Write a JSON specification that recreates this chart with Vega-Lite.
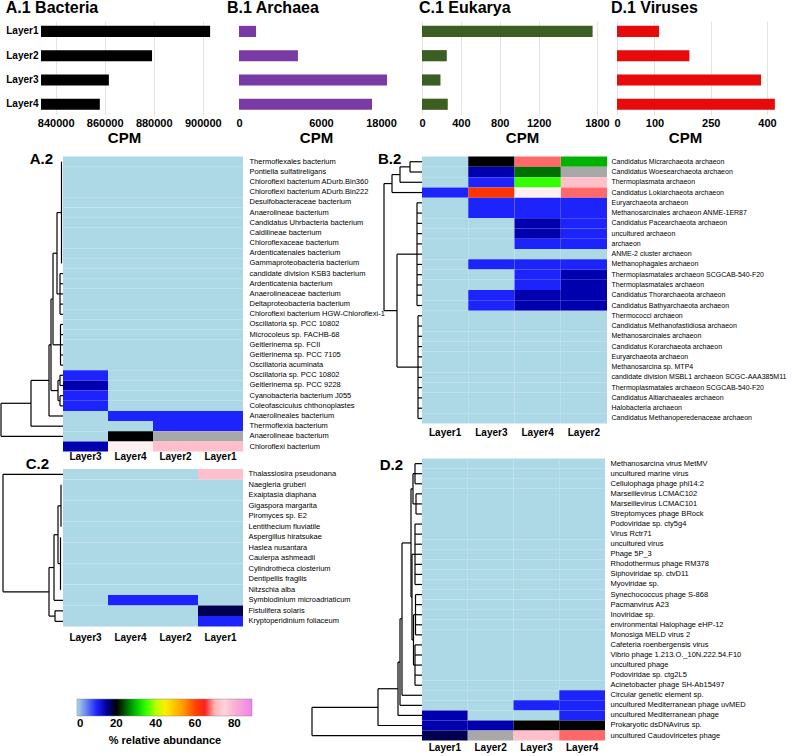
{
"$schema": "https://vega.github.io/schema/vega-lite/v6.json",
"padding": 0,
"background": "white",
"spacing": 5.6,
"config": {
 "view": {"stroke": null},
 "font": "Liberation Sans",
 "axis": {"labelColor": "black", "titleColor": "black", "domain": false, "ticks": false},
 "title": {"color": "black", "font": "Liberation Sans", "fontWeight": "bold", "fontSize": 16}
},
"resolve": {"scale": {"color": "shared"}, "legend": {"color": "shared"}},
"datasets": {
 "A": [
  {"r":"Thermoflexales bacterium","Layer1":0,"Layer2":0,"Layer3":0,"Layer4":0},
  {"r":"Pontiella sulfatireligans","Layer1":0,"Layer2":0,"Layer3":0,"Layer4":0},
  {"r":"Chloroflexi bacterium ADurb.Bin360","Layer1":0,"Layer2":0,"Layer3":0,"Layer4":0},
  {"r":"Chloroflexi bacterium ADurb.Bin222","Layer1":0,"Layer2":0,"Layer3":0,"Layer4":0},
  {"r":"Desulfobacteraceae bacterium","Layer1":0,"Layer2":0,"Layer3":0,"Layer4":0},
  {"r":"Anaerolineae bacterium","Layer1":0,"Layer2":0,"Layer3":0,"Layer4":0},
  {"r":"Candidatus Uhrbacteria bacterium","Layer1":0,"Layer2":0,"Layer3":0,"Layer4":0},
  {"r":"Caldilineae bacterium","Layer1":0,"Layer2":0,"Layer3":0,"Layer4":0},
  {"r":"Chloroflexaceae bacterium","Layer1":0,"Layer2":0,"Layer3":0,"Layer4":0},
  {"r":"Ardenticatenales bacterium","Layer1":0,"Layer2":0,"Layer3":0,"Layer4":0},
  {"r":"Gammaproteobacteria bacterium","Layer1":0,"Layer2":0,"Layer3":0,"Layer4":0},
  {"r":"candidate division KSB3 bacterium","Layer1":0,"Layer2":0,"Layer3":0,"Layer4":0},
  {"r":"Ardenticatenia bacterium","Layer1":0,"Layer2":0,"Layer3":0,"Layer4":0},
  {"r":"Anaerolineaceae bacterium","Layer1":0,"Layer2":0,"Layer3":0,"Layer4":0},
  {"r":"Deltaproteobacteria bacterium","Layer1":0,"Layer2":0,"Layer3":0,"Layer4":0},
  {"r":"Chloroflexi bacterium HGW-Chloroflexi-1","Layer1":0,"Layer2":0,"Layer3":0,"Layer4":0},
  {"r":"Oscillatoria sp. PCC 10802","Layer1":0,"Layer2":0,"Layer3":0,"Layer4":0},
  {"r":"Microcoleus sp. FACHB-68","Layer1":0,"Layer2":0,"Layer3":0,"Layer4":0},
  {"r":"Geitlerinema sp. FCII","Layer1":0,"Layer2":0,"Layer3":0,"Layer4":0},
  {"r":"Geitlerinema sp. PCC 7105","Layer1":0,"Layer2":0,"Layer3":0,"Layer4":0},
  {"r":"Oscillatoria acuminata","Layer1":0,"Layer2":0,"Layer3":0,"Layer4":0},
  {"r":"Oscillatoria sp. PCC 10802\u200b","Layer1":0,"Layer2":0,"Layer3":10,"Layer4":0},
  {"r":"Geitlerinema sp. PCC 9228","Layer1":0,"Layer2":0,"Layer3":14.5,"Layer4":0},
  {"r":"Cyanobacteria bacterium J055","Layer1":0,"Layer2":0,"Layer3":10,"Layer4":0},
  {"r":"Coleofasciculus chthonoplastes","Layer1":0,"Layer2":0,"Layer3":10,"Layer4":0},
  {"r":"Anaerolineales bacterium","Layer1":10,"Layer2":10,"Layer3":0,"Layer4":10},
  {"r":"Thermoflexia bacterium","Layer1":10,"Layer2":10,"Layer3":0,"Layer4":0},
  {"r":"Anaerolineae bacterium\u200b","Layer1":null,"Layer2":null,"Layer3":0,"Layer4":20},
  {"r":"Chloroflexi bacterium","Layer1":77,"Layer2":77,"Layer3":14.5,"Layer4":72}
 ],
 "B": [
  {"r":"Candidatus Micrarchaeota archaeon","Layer1":0,"Layer2":29,"Layer3":20,"Layer4":67.5},
  {"r":"Candidatus Woesearchaeota archaeon","Layer1":0,"Layer2":null,"Layer3":14.5,"Layer4":25.5},
  {"r":"Thermoplasmata archaeon","Layer1":0,"Layer2":77,"Layer3":10,"Layer4":35},
  {"r":"Candidatus Lokiarchaeota archaeon","Layer1":10,"Layer2":67.5,"Layer3":61,"Layer4":72},
  {"r":"Euryarchaeota archaeon","Layer1":0,"Layer2":10,"Layer3":10,"Layer4":10},
  {"r":"Methanosarcinales archaeon ANME-1ER87","Layer1":0,"Layer2":10,"Layer3":10,"Layer4":10},
  {"r":"Candidatus Pacearchaeota archaeon","Layer1":0,"Layer2":10,"Layer3":0,"Layer4":14.5},
  {"r":"uncultured archaeon","Layer1":0,"Layer2":10,"Layer3":0,"Layer4":14.5},
  {"r":"archaeon","Layer1":0,"Layer2":10,"Layer3":0,"Layer4":10},
  {"r":"ANME-2 cluster archaeon","Layer1":0,"Layer2":0,"Layer3":0,"Layer4":0},
  {"r":"Methanophagales archaeon","Layer1":0,"Layer2":10,"Layer3":10,"Layer4":10},
  {"r":"Thermoplasmatales archaeon SCGCAB-540-F20","Layer1":0,"Layer2":14.5,"Layer3":0,"Layer4":10},
  {"r":"Thermoplasmatales archaeon","Layer1":0,"Layer2":14.5,"Layer3":0,"Layer4":10},
  {"r":"Candidatus Thorarchaeota archaeon","Layer1":0,"Layer2":14.5,"Layer3":10,"Layer4":14.5},
  {"r":"Candidatus Bathyarchaeota archaeon","Layer1":0,"Layer2":14.5,"Layer3":10,"Layer4":14.5},
  {"r":"Thermococci archaeon","Layer1":0,"Layer2":0,"Layer3":0,"Layer4":0},
  {"r":"Candidatus Methanofastidiosa archaeon","Layer1":0,"Layer2":0,"Layer3":0,"Layer4":0},
  {"r":"Methanosarcinales archaeon","Layer1":0,"Layer2":0,"Layer3":0,"Layer4":0},
  {"r":"Candidatus Korarchaeota archaeon","Layer1":0,"Layer2":0,"Layer3":0,"Layer4":0},
  {"r":"Euryarchaeota archaeon\u200b","Layer1":0,"Layer2":0,"Layer3":0,"Layer4":0},
  {"r":"Methanosarcina sp. MTP4","Layer1":0,"Layer2":0,"Layer3":0,"Layer4":0},
  {"r":"candidate division MSBL1 archaeon SCGC-AAA385M11","Layer1":0,"Layer2":0,"Layer3":0,"Layer4":0},
  {"r":"Thermoplasmatales archaeon SCGCAB-540-F20\u200b","Layer1":0,"Layer2":0,"Layer3":0,"Layer4":0},
  {"r":"Candidatus Altiarchaeales archaeon","Layer1":0,"Layer2":0,"Layer3":0,"Layer4":0},
  {"r":"Halobacteria archaeon","Layer1":0,"Layer2":0,"Layer3":0,"Layer4":0},
  {"r":"Candidatus Methanoperedenaceae archaeon","Layer1":0,"Layer2":0,"Layer3":0,"Layer4":0}
 ],
 "C": [
  {"r":"Thalassiosira pseudonana","Layer1":77,"Layer2":0,"Layer3":0,"Layer4":0},
  {"r":"Naegleria gruberi","Layer1":0,"Layer2":0,"Layer3":0,"Layer4":0},
  {"r":"Exaiptasia diaphana","Layer1":0,"Layer2":0,"Layer3":0,"Layer4":0},
  {"r":"Gigaspora margarita","Layer1":0,"Layer2":0,"Layer3":0,"Layer4":0},
  {"r":"Piromyces sp. E2","Layer1":0,"Layer2":0,"Layer3":0,"Layer4":0},
  {"r":"Lentithecium fluviatile","Layer1":0,"Layer2":0,"Layer3":0,"Layer4":0},
  {"r":"Aspergillus hiratsukae","Layer1":0,"Layer2":0,"Layer3":0,"Layer4":0},
  {"r":"Haslea nusantara","Layer1":0,"Layer2":0,"Layer3":0,"Layer4":0},
  {"r":"Caulerpa ashmeadii","Layer1":0,"Layer2":0,"Layer3":0,"Layer4":0},
  {"r":"Cylindrotheca closterium","Layer1":0,"Layer2":0,"Layer3":0,"Layer4":0},
  {"r":"Dentipellis fragilis","Layer1":0,"Layer2":0,"Layer3":0,"Layer4":0},
  {"r":"Nitzschia alba","Layer1":0,"Layer2":0,"Layer3":0,"Layer4":0},
  {"r":"Symbiodinium microadriaticum","Layer1":0,"Layer2":10,"Layer3":0,"Layer4":10},
  {"r":"Fistulifera solaris","Layer1":17.5,"Layer2":0,"Layer3":0,"Layer4":0},
  {"r":"Kryptoperidinium foliaceum","Layer1":10,"Layer2":0,"Layer3":0,"Layer4":0}
 ],
 "D": [
  {"r":"Methanosarcina virus MetMV","Layer1":0,"Layer2":0,"Layer3":0,"Layer4":0},
  {"r":"uncultured marine virus","Layer1":0,"Layer2":0,"Layer3":0,"Layer4":0},
  {"r":"Cellulophaga phage phi14:2","Layer1":0,"Layer2":0,"Layer3":0,"Layer4":0},
  {"r":"Marseillevirus LCMAC102","Layer1":0,"Layer2":0,"Layer3":0,"Layer4":0},
  {"r":"Marseillevirus LCMAC101","Layer1":0,"Layer2":0,"Layer3":0,"Layer4":0},
  {"r":"Streptomyces phage BRock","Layer1":0,"Layer2":0,"Layer3":0,"Layer4":0},
  {"r":"Podoviridae sp. cty5g4","Layer1":0,"Layer2":0,"Layer3":0,"Layer4":0},
  {"r":"Virus Rctr71","Layer1":0,"Layer2":0,"Layer3":0,"Layer4":0},
  {"r":"uncultured virus","Layer1":0,"Layer2":0,"Layer3":0,"Layer4":0},
  {"r":"Phage 5P_3","Layer1":0,"Layer2":0,"Layer3":0,"Layer4":0},
  {"r":"Rhodothermus phage RM378","Layer1":0,"Layer2":0,"Layer3":0,"Layer4":0},
  {"r":"Siphoviridae sp. ctvD11","Layer1":0,"Layer2":0,"Layer3":0,"Layer4":0},
  {"r":"Myoviridae sp.","Layer1":0,"Layer2":0,"Layer3":0,"Layer4":0},
  {"r":"Synechococcus phage S-868","Layer1":0,"Layer2":0,"Layer3":0,"Layer4":0},
  {"r":"Pacmanvirus A23","Layer1":0,"Layer2":0,"Layer3":0,"Layer4":0},
  {"r":"Inoviridae sp.","Layer1":0,"Layer2":0,"Layer3":0,"Layer4":0},
  {"r":"environmental Halophage eHP-12","Layer1":0,"Layer2":0,"Layer3":0,"Layer4":0},
  {"r":"Monosiga MELD virus 2","Layer1":0,"Layer2":0,"Layer3":0,"Layer4":0},
  {"r":"Cafeteria roenbergensis virus","Layer1":0,"Layer2":0,"Layer3":0,"Layer4":0},
  {"r":"Vibrio phage 1.213.O._10N.222.54.F10","Layer1":0,"Layer2":0,"Layer3":0,"Layer4":0},
  {"r":"uncultured phage","Layer1":0,"Layer2":0,"Layer3":0,"Layer4":0},
  {"r":"Podoviridae sp. ctg2L5","Layer1":0,"Layer2":0,"Layer3":0,"Layer4":0},
  {"r":"Acinetobacter phage SH-Ab15497","Layer1":0,"Layer2":0,"Layer3":0,"Layer4":0},
  {"r":"Circular genetic element sp.","Layer1":0,"Layer2":0,"Layer3":0,"Layer4":10},
  {"r":"uncultured Mediterranean phage uvMED","Layer1":0,"Layer2":0,"Layer3":10,"Layer4":10},
  {"r":"uncultured Mediterranean phage","Layer1":14.5,"Layer2":0,"Layer3":0,"Layer4":10},
  {"r":"Prokaryotic dsDNAvirus sp.","Layer1":14.5,"Layer2":14.5,"Layer3":20,"Layer4":20},
  {"r":"uncultured Caudoviricetes phage","Layer1":17.5,"Layer2":null,"Layer3":77,"Layer4":67.5}
 ],
 "dA": [
  {"x1":1.5,"x2":1.5,"y1":0.5,"y2":10.5},
  {"x1":3,"x2":3,"y1":11.5,"y2":15.5},
  {"x1":0,"x2":3,"y1":11.5,"y2":11.5},{"x1":0,"x2":3,"y1":12.5,"y2":12.5},{"x1":0,"x2":3,"y1":13.5,"y2":13.5},{"x1":0,"x2":3,"y1":14.5,"y2":14.5},{"x1":0,"x2":3,"y1":15.5,"y2":15.5},
  {"x1":6,"x2":6,"y1":5.5,"y2":13.5},
  {"x1":1.5,"x2":6,"y1":5.5,"y2":5.5},
  {"x1":3,"x2":6,"y1":13.5,"y2":13.5},
  {"x1":2.5,"x2":2.5,"y1":16.5,"y2":20.5},
  {"x1":0,"x2":2.5,"y1":16.5,"y2":16.5},{"x1":0,"x2":2.5,"y1":17.5,"y2":17.5},{"x1":0,"x2":2.5,"y1":18.5,"y2":18.5},{"x1":0,"x2":2.5,"y1":19.5,"y2":19.5},{"x1":0,"x2":2.5,"y1":20.5,"y2":20.5},
  {"x1":10,"x2":10,"y1":9.5,"y2":18.5},
  {"x1":6,"x2":10,"y1":9.5,"y2":9.5},
  {"x1":2.5,"x2":10,"y1":18.5,"y2":18.5},
  {"x1":3,"x2":3,"y1":21.5,"y2":22.5},
  {"x1":3,"x2":3,"y1":23.5,"y2":24.5},
  {"x1":0,"x2":3,"y1":21.5,"y2":21.5},{"x1":0,"x2":3,"y1":22.5,"y2":22.5},{"x1":0,"x2":3,"y1":23.5,"y2":23.5},{"x1":0,"x2":3,"y1":24.5,"y2":24.5},
  {"x1":5,"x2":5,"y1":22,"y2":24},
  {"x1":3,"x2":5,"y1":22,"y2":22},
  {"x1":3,"x2":5,"y1":24,"y2":24},
  {"x1":12,"x2":12,"y1":14,"y2":23},
  {"x1":10,"x2":12,"y1":14,"y2":14},
  {"x1":5,"x2":12,"y1":23,"y2":23},
  {"x1":14,"x2":14,"y1":18.5,"y2":25.5},
  {"x1":12,"x2":14,"y1":18.5,"y2":18.5},
  {"x1":0,"x2":14,"y1":25.5,"y2":25.5},
  {"x1":32,"x2":32,"y1":22,"y2":26.5},
  {"x1":14,"x2":32,"y1":22,"y2":22},
  {"x1":0,"x2":32,"y1":26.5,"y2":26.5},
  {"x1":62,"x2":62,"y1":24.25,"y2":27.5},
  {"x1":32,"x2":62,"y1":24.25,"y2":24.25},
  {"x1":0,"x2":62,"y1":27.5,"y2":27.5}
 ],
 "dB": [
  {"x1":12,"x2":12,"y1":0.5,"y2":1.5},
  {"x1":0,"x2":12,"y1":0.5,"y2":0.5},
  {"x1":0,"x2":12,"y1":1.5,"y2":1.5},
  {"x1":22,"x2":22,"y1":1,"y2":2.5},
  {"x1":12,"x2":22,"y1":1,"y2":1},
  {"x1":0,"x2":22,"y1":2.5,"y2":2.5},
  {"x1":30,"x2":30,"y1":1.75,"y2":3.5},
  {"x1":22,"x2":30,"y1":1.75,"y2":1.75},
  {"x1":0,"x2":30,"y1":3.5,"y2":3.5},
  {"x1":5,"x2":5,"y1":4.5,"y2":14.5},
  {"x1":0,"x2":5,"y1":4.5,"y2":4.5},{"x1":0,"x2":5,"y1":5.5,"y2":5.5},{"x1":0,"x2":5,"y1":6.5,"y2":6.5},{"x1":0,"x2":5,"y1":7.5,"y2":7.5},{"x1":0,"x2":5,"y1":8.5,"y2":8.5},{"x1":0,"x2":5,"y1":9.5,"y2":9.5},{"x1":0,"x2":5,"y1":10.5,"y2":10.5},{"x1":0,"x2":5,"y1":11.5,"y2":11.5},{"x1":0,"x2":5,"y1":12.5,"y2":12.5},{"x1":0,"x2":5,"y1":13.5,"y2":13.5},{"x1":0,"x2":5,"y1":14.5,"y2":14.5},
  {"x1":4,"x2":4,"y1":15.5,"y2":25.5},
  {"x1":0,"x2":4,"y1":15.5,"y2":15.5},{"x1":0,"x2":4,"y1":16.5,"y2":16.5},{"x1":0,"x2":4,"y1":17.5,"y2":17.5},{"x1":0,"x2":4,"y1":18.5,"y2":18.5},{"x1":0,"x2":4,"y1":19.5,"y2":19.5},{"x1":0,"x2":4,"y1":20.5,"y2":20.5},{"x1":0,"x2":4,"y1":21.5,"y2":21.5},{"x1":0,"x2":4,"y1":22.5,"y2":22.5},{"x1":0,"x2":4,"y1":23.5,"y2":23.5},{"x1":0,"x2":4,"y1":24.5,"y2":24.5},{"x1":0,"x2":4,"y1":25.5,"y2":25.5},
  {"x1":25,"x2":25,"y1":9.5,"y2":20.5},
  {"x1":5,"x2":25,"y1":9.5,"y2":9.5},
  {"x1":4,"x2":25,"y1":20.5,"y2":20.5},
  {"x1":38,"x2":38,"y1":2.625,"y2":15},
  {"x1":30,"x2":38,"y1":2.625,"y2":2.625},
  {"x1":25,"x2":38,"y1":15,"y2":15}
 ],
 "dC": [
  {"x1":2,"x2":2,"y1":1.5,"y2":5.5},
  {"x1":2.5,"x2":2.5,"y1":6.5,"y2":11.5},
  {"x1":5,"x2":5,"y1":3.5,"y2":9},
  {"x1":2,"x2":5,"y1":3.5,"y2":3.5},
  {"x1":2.5,"x2":5,"y1":9,"y2":9},
  {"x1":9,"x2":9,"y1":6.25,"y2":12.5},
  {"x1":5,"x2":9,"y1":6.25,"y2":6.25},
  {"x1":0,"x2":9,"y1":12.5,"y2":12.5},
  {"x1":8,"x2":8,"y1":13.5,"y2":14.5},
  {"x1":0,"x2":8,"y1":13.5,"y2":13.5},
  {"x1":0,"x2":8,"y1":14.5,"y2":14.5},
  {"x1":14,"x2":14,"y1":9.375,"y2":14},
  {"x1":9,"x2":14,"y1":9.375,"y2":9.375},
  {"x1":8,"x2":14,"y1":14,"y2":14},
  {"x1":60,"x2":60,"y1":0.5,"y2":11.69},
  {"x1":0,"x2":60,"y1":0.5,"y2":0.5},
  {"x1":14,"x2":60,"y1":11.69,"y2":11.69}
 ],
 "dD": [
  {"x1":7,"x2":7,"y1":0.5,"y2":2.5},
  {"x1":0,"x2":7,"y1":0.5,"y2":0.5},{"x1":0,"x2":7,"y1":1.5,"y2":1.5},{"x1":0,"x2":7,"y1":2.5,"y2":2.5},
  {"x1":6,"x2":6,"y1":3.5,"y2":5.5},
  {"x1":0,"x2":6,"y1":3.5,"y2":3.5},{"x1":0,"x2":6,"y1":4.5,"y2":4.5},{"x1":0,"x2":6,"y1":5.5,"y2":5.5},
  {"x1":9,"x2":9,"y1":1.5,"y2":4.5},
  {"x1":7,"x2":9,"y1":1.5,"y2":1.5},
  {"x1":6,"x2":9,"y1":4.5,"y2":4.5},
  {"x1":7,"x2":7,"y1":6.5,"y2":12.5},
  {"x1":0,"x2":7,"y1":6.5,"y2":6.5},{"x1":0,"x2":7,"y1":7.5,"y2":7.5},{"x1":0,"x2":7,"y1":8.5,"y2":8.5},{"x1":0,"x2":7,"y1":9.5,"y2":9.5},{"x1":0,"x2":7,"y1":10.5,"y2":10.5},{"x1":0,"x2":7,"y1":11.5,"y2":11.5},{"x1":0,"x2":7,"y1":12.5,"y2":12.5},
  {"x1":6.5,"x2":6.5,"y1":13.5,"y2":17.5},
  {"x1":0,"x2":6.5,"y1":13.5,"y2":13.5},{"x1":0,"x2":6.5,"y1":14.5,"y2":14.5},{"x1":0,"x2":6.5,"y1":15.5,"y2":15.5},{"x1":0,"x2":6.5,"y1":16.5,"y2":16.5},{"x1":0,"x2":6.5,"y1":17.5,"y2":17.5},
  {"x1":7,"x2":7,"y1":18.5,"y2":22.5},
  {"x1":0,"x2":7,"y1":18.5,"y2":18.5},{"x1":0,"x2":7,"y1":19.5,"y2":19.5},{"x1":0,"x2":7,"y1":20.5,"y2":20.5},{"x1":0,"x2":7,"y1":21.5,"y2":21.5},{"x1":0,"x2":7,"y1":22.5,"y2":22.5},
  {"x1":8.5,"x2":8.5,"y1":15.5,"y2":20.5},
  {"x1":6.5,"x2":8.5,"y1":15.5,"y2":15.5},
  {"x1":7,"x2":8.5,"y1":20.5,"y2":20.5},
  {"x1":10,"x2":10,"y1":9.5,"y2":18},
  {"x1":7,"x2":10,"y1":9.5,"y2":9.5},
  {"x1":8.5,"x2":10,"y1":18,"y2":18},
  {"x1":11,"x2":11,"y1":3,"y2":13.75},
  {"x1":9,"x2":11,"y1":3,"y2":3},
  {"x1":10,"x2":11,"y1":13.75,"y2":13.75},
  {"x1":20,"x2":20,"y1":8.375,"y2":23.5},
  {"x1":11,"x2":20,"y1":8.375,"y2":8.375},
  {"x1":0,"x2":20,"y1":23.5,"y2":23.5},
  {"x1":22,"x2":22,"y1":15.9,"y2":24.5},
  {"x1":20,"x2":22,"y1":15.9,"y2":15.9},
  {"x1":0,"x2":22,"y1":24.5,"y2":24.5},
  {"x1":24,"x2":24,"y1":20.2,"y2":25.5},
  {"x1":22,"x2":24,"y1":20.2,"y2":20.2},
  {"x1":0,"x2":24,"y1":25.5,"y2":25.5},
  {"x1":44,"x2":44,"y1":22.85,"y2":26.5},
  {"x1":24,"x2":44,"y1":22.85,"y2":22.85},
  {"x1":0,"x2":44,"y1":26.5,"y2":26.5},
  {"x1":110,"x2":110,"y1":24.7,"y2":27.5},
  {"x1":44,"x2":110,"y1":24.7,"y2":24.7},
  {"x1":0,"x2":110,"y1":27.5,"y2":27.5}
 ]
},
"vconcat": [
 {
  "bounds": "flush",
  "spacing": 0,
  "hconcat": [
   {"width": 41, "height": 1, "data": {"values": []}, "mark": "point"},
   {
    "width": 198, "height": 93.7,
    "title": {"text": "A.1 Bacteria", "anchor": "start", "offset": 5},
    "data": {"values": [{"layer":"Layer1","cpm":903000},{"layer":"Layer2","cpm":879300},{"layer":"Layer3","cpm":861700},{"layer":"Layer4","cpm":858000}]},
    "mark": {"type": "bar", "color": "black", "clip": true},
    "encoding": {
     "y": {"field": "layer", "type": "nominal", "sort": null, "scale": {"paddingInner": 0.54, "paddingOuter": 0.2}, "axis": {"title": null, "labelFontWeight": "bold", "labelFontSize": 10, "labelPadding": 3}},
     "x": {"field": "cpm", "type": "quantitative", "stack": null, "scale": {"domain": [834000, 914784], "zero": false, "nice": false}, "axis": {"values": [840000, 860000, 880000, 900000], "format": "d", "title": "CPM", "titleX": 83, "grid": true, "gridColor": "#e3e3e3", "labelFlush": false, "labelFontWeight": "bold", "labelFontSize": 11, "labelPadding": 3, "titleFontSize": 15, "titleFontWeight": "bold", "titlePadding": 2}}
    }
   },
   {
    "width": 183, "height": 93.7,
    "title": {"text": "B.1 Archaea", "anchor": "start", "offset": 5, "dx": -9},
    "data": {"values": [{"layer":"Layer1","cpm":260},{"layer":"Layer2","cpm":3100},{"layer":"Layer3","cpm":19550},{"layer":"Layer4","cpm":15800}]},
    "mark": {"type": "bar", "color": "#7a3aa6"},
    "encoding": {
     "y": {"field": "layer", "type": "nominal", "sort": null, "scale": {"paddingInner": 0.54, "paddingOuter": 0.2}, "axis": null},
     "x": {"field": "cpm", "type": "quantitative", "stack": null, "scale": {"type": "sqrt", "domain": [0, 29895], "nice": false}, "axis": {"values": [0, 6000, 18000], "format": "d", "title": "CPM", "titleX": 77, "grid": false, "labelFlush": false, "labelFontWeight": "bold", "labelFontSize": 11, "labelPadding": 3, "titleFontSize": 15, "titleFontWeight": "bold", "titlePadding": 2}}
    }
   },
   {
    "width": 195, "height": 93.7,
    "title": {"text": "C.1 Eukarya", "anchor": "start", "offset": 5},
    "data": {"values": [{"layer":"Layer1","cpm":1755},{"layer":"Layer2","cpm":255},{"layer":"Layer3","cpm":190},{"layer":"Layer4","cpm":265}]},
    "mark": {"type": "bar", "color": "#3c5e22"},
    "encoding": {
     "y": {"field": "layer", "type": "nominal", "sort": null, "scale": {"paddingInner": 0.54, "paddingOuter": 0.2}, "axis": null},
     "x": {"field": "cpm", "type": "quantitative", "stack": null, "scale": {"domain": [0, 2006], "nice": false}, "axis": {"values": [0, 400, 800, 1200, 1800], "format": "d", "title": "CPM", "titleX": 100, "grid": true, "gridColor": "#e3e3e3", "labelFlush": false, "labelFontWeight": "bold", "labelFontSize": 11, "labelPadding": 3, "titleFontSize": 15, "titleFontWeight": "bold", "titlePadding": 2}}
    }
   },
   {
    "width": 175, "height": 93.7,
    "title": {"text": "D.1 Viruses", "anchor": "start", "offset": 5, "dx": -3},
    "data": {"values": [{"layer":"Layer1","cpm":112},{"layer":"Layer2","cpm":193},{"layer":"Layer3","cpm":384},{"layer":"Layer4","cpm":421}]},
    "mark": {"type": "bar", "color": "#e80a0a"},
    "encoding": {
     "y": {"field": "layer", "type": "nominal", "sort": null, "scale": {"paddingInner": 0.54, "paddingOuter": 0.2}, "axis": null},
     "x": {"field": "cpm", "type": "quantitative", "stack": null, "scale": {"domain": [0, 466.7], "nice": false}, "axis": {"values": [0, 100, 250, 400], "format": "d", "title": "CPM", "titleX": 68, "grid": true, "gridColor": "#e3e3e3", "labelFlush": false, "labelFontWeight": "bold", "labelFontSize": 11, "labelPadding": 3, "titleFontSize": 15, "titleFontWeight": "bold", "titlePadding": 2}}
    }
   }
  ]
 },
 {
  "spacing": 0,
  "resolve": {"scale": {"color": "shared"}, "legend": {"color": "shared"}},
  "vconcat": [
   {
    "bounds": "flush",
    "spacing": 0,
    "hconcat": [
     {
      "width": 63, "height": 295,
      "title": {"text": "A.2", "anchor": "end", "frame": "group", "dx": -10, "dy": 10, "offset": 0, "fontSize": 15},
      "data": {"name": "dA"},
      "mark": {"type": "rule", "color": "black", "strokeWidth": 1.2},
      "encoding": {
       "x": {"field": "x1", "type": "quantitative", "scale": {"domain": [0, 63], "reverse": true, "nice": false, "zero": false}, "axis": null},
       "x2": {"field": "x2"},
       "y": {"field": "y1", "type": "quantitative", "scale": {"domain": [0, 29], "reverse": true, "nice": false, "zero": false}, "axis": null},
       "y2": {"field": "y2"}
      }
     },
     {
      "width": 180, "height": 295,
      "data": {"name": "A"},
      "transform": [{"fold": ["Layer1", "Layer2", "Layer3", "Layer4"], "as": ["l", "v"]}],
      "mark": {"type": "rect", "invalid": "show"},
      "encoding": {
       "x": {"field": "l", "type": "nominal", "sort": ["Layer3", "Layer4", "Layer2", "Layer1"], "scale": {"paddingInner": 0, "paddingOuter": 0}, "axis": null},
       "y": {"field": "r", "type": "nominal", "sort": null, "scale": {"paddingInner": 0, "paddingOuter": 0}, "axis": {"orient": "right", "title": null, "labelFontSize": 7.5, "labelPadding": 6, "labelLimit": 400}},
       "color": {"condition": {"test": "datum.v === null", "value": "#a8a8a8"}, "field": "v", "type": "quantitative",
        "scale": {"domain": [0, 12, 20, 25, 33, 43, 53, 58, 64, 72, 77, 89], "range": ["#add8e6", "#0000ff", "#000000", "#006400", "#00ff00", "#ffff00", "#ffa500", "#ff6600", "#ff0000", "#fff0f2", "#ffc0cb", "#ee82ee"], "interpolate": "rgb"},
        "legend": {"orient": "none", "legendX": 77, "legendY": 678, "direction": "horizontal", "gradientLength": 175, "gradientThickness": 17, "title": "% relative abundance", "titleOrient": "bottom", "titleAnchor": "middle", "titleFontSize": 11, "titleFontWeight": "bold", "titleColor": "black", "labelFontSize": 11.5, "labelFontWeight": "bold", "labelColor": "black", "values": [0, 20, 40, 60, 80], "gradientStrokeColor": "#888888", "gradientStrokeWidth": 0.5}}
      }
     },
     {"width": 139, "height": 1, "data": {"values": []}, "mark": "point"},
     {
      "width": 40, "height": 267,
      "title": {"text": "B.2", "anchor": "start", "frame": "group", "dx": -4, "dy": 10, "offset": 0, "fontSize": 15},
      "data": {"name": "dB"},
      "mark": {"type": "rule", "color": "black", "strokeWidth": 1.2},
      "encoding": {
       "x": {"field": "x1", "type": "quantitative", "scale": {"domain": [0, 40], "reverse": true, "nice": false, "zero": false}, "axis": null},
       "x2": {"field": "x2"},
       "y": {"field": "y1", "type": "quantitative", "scale": {"domain": [0, 26], "reverse": true, "nice": false, "zero": false}, "axis": null},
       "y2": {"field": "y2"}
      }
     },
     {
      "width": 185, "height": 267,
      "data": {"name": "B"},
      "transform": [{"fold": ["Layer1", "Layer2", "Layer3", "Layer4"], "as": ["l", "v"]}],
      "mark": {"type": "rect", "invalid": "show"},
      "encoding": {
       "x": {"field": "l", "type": "nominal", "sort": ["Layer1", "Layer3", "Layer4", "Layer2"], "scale": {"paddingInner": 0, "paddingOuter": 0}, "axis": {"orient": "bottom", "title": null, "labelAngle": 0, "labelFontWeight": "bold", "labelFontSize": 10, "labelPadding": 4}},
       "y": {"field": "r", "type": "nominal", "sort": null, "scale": {"paddingInner": 0, "paddingOuter": 0}, "axis": {"orient": "right", "title": null, "labelFontSize": 7, "labelPadding": 4, "labelLimit": 400}},
       "color": {"condition": {"test": "datum.v === null", "value": "#a8a8a8"}, "field": "v", "type": "quantitative",
        "scale": {"domain": [0, 12, 20, 25, 33, 43, 53, 58, 64, 72, 77, 89], "range": ["#add8e6", "#0000ff", "#000000", "#006400", "#00ff00", "#ffff00", "#ffa500", "#ff6600", "#ff0000", "#fff0f2", "#ffc0cb", "#ee82ee"], "interpolate": "rgb"}}
      }
     }
    ]
   },
   {
    "bounds": "flush",
    "spacing": 0,
    "hconcat": [
     {
      "width": 63, "height": 168,
      "title": {"text": "C.2", "anchor": "end", "frame": "group", "dx": -14, "dy": 13, "offset": 0, "fontSize": 15},
      "data": {"name": "dC"},
      "mark": {"type": "rule", "color": "black", "strokeWidth": 1.2},
      "encoding": {
       "x": {"field": "x1", "type": "quantitative", "scale": {"domain": [0, 63], "reverse": true, "nice": false, "zero": false}, "axis": null},
       "x2": {"field": "x2"},
       "y": {"field": "y1", "type": "quantitative", "scale": {"domain": [-1, 15], "reverse": true, "nice": false, "zero": false}, "axis": null},
       "y2": {"field": "y2"}
      }
     },
     {
      "width": 180, "height": 168,
      "data": {"name": "C"},
      "transform": [{"fold": ["Layer1", "Layer2", "Layer3", "Layer4"], "as": ["l", "v"]}],
      "resolve": {"scale": {"x": "independent"}},
      "layer": [
       {
        "mark": {"type": "rect", "invalid": "show"},
        "encoding": {
         "x": {"field": "l", "type": "nominal", "sort": ["Layer3", "Layer4", "Layer2", "Layer1"], "scale": {"paddingInner": 0, "paddingOuter": 0}, "axis": {"orient": "bottom", "title": null, "labelAngle": 0, "labelFontWeight": "bold", "labelFontSize": 10, "labelPadding": 6}},
         "y": {"field": "r", "type": "nominal", "scale": {"domain": ["", "Thalassiosira pseudonana", "Naegleria gruberi", "Exaiptasia diaphana", "Gigaspora margarita", "Piromyces sp. E2", "Lentithecium fluviatile", "Aspergillus hiratsukae", "Haslea nusantara", "Caulerpa ashmeadii", "Cylindrotheca closterium", "Dentipellis fragilis", "Nitzschia alba", "Symbiodinium microadriaticum", "Fistulifera solaris", "Kryptoperidinium foliaceum"], "paddingInner": 0, "paddingOuter": 0}, "axis": {"orient": "right", "title": null, "labelFontSize": 7.5, "labelPadding": 5, "labelLimit": 400}},
         "color": {"condition": {"test": "datum.v === null", "value": "#a8a8a8"}, "field": "v", "type": "quantitative",
          "scale": {"domain": [0, 12, 20, 25, 33, 43, 53, 58, 64, 72, 77, 89], "range": ["#add8e6", "#0000ff", "#000000", "#006400", "#00ff00", "#ffff00", "#ffa500", "#ff6600", "#ff0000", "#fff0f2", "#ffc0cb", "#ee82ee"], "interpolate": "rgb"}}
        }
       },
       {
        "mark": {"type": "rect", "opacity": 0},
        "encoding": {
         "x": {"field": "l", "type": "nominal", "sort": ["Layer3", "Layer4", "Layer2", "Layer1"], "scale": {"paddingInner": 0, "paddingOuter": 0}, "axis": {"orient": "top", "title": null, "labelAngle": 0, "labelFontWeight": "bold", "labelFontSize": 10, "labelPadding": -3}}
        }
       }
      ]
     },
     {"width": 68, "height": 1, "data": {"values": []}, "mark": "point"},
     {
      "width": 111, "height": 282,
      "title": {"text": "D.2", "anchor": "end", "frame": "group", "dx": -19, "dy": 14, "offset": 0, "fontSize": 15},
      "data": {"name": "dD"},
      "mark": {"type": "rule", "color": "black", "strokeWidth": 1.2},
      "encoding": {
       "x": {"field": "x1", "type": "quantitative", "scale": {"domain": [0, 111], "reverse": true, "nice": false, "zero": false}, "axis": null},
       "x2": {"field": "x2"},
       "y": {"field": "y1", "type": "quantitative", "scale": {"domain": [0, 28], "reverse": true, "nice": false, "zero": false}, "axis": null},
       "y2": {"field": "y2"}
      }
     },
     {
      "width": 183, "height": 282,
      "data": {"name": "D"},
      "transform": [{"fold": ["Layer1", "Layer2", "Layer3", "Layer4"], "as": ["l", "v"]}],
      "mark": {"type": "rect", "invalid": "show"},
      "encoding": {
       "x": {"field": "l", "type": "nominal", "sort": ["Layer1", "Layer2", "Layer3", "Layer4"], "scale": {"paddingInner": 0, "paddingOuter": 0}, "axis": {"orient": "bottom", "title": null, "labelAngle": 0, "labelFontWeight": "bold", "labelFontSize": 10, "labelPadding": 2}},
       "y": {"field": "r", "type": "nominal", "sort": null, "scale": {"paddingInner": 0, "paddingOuter": 0}, "axis": {"orient": "right", "title": null, "labelFontSize": 7.5, "labelPadding": 5, "labelLimit": 400}},
       "color": {"condition": {"test": "datum.v === null", "value": "#a8a8a8"}, "field": "v", "type": "quantitative",
        "scale": {"domain": [0, 12, 20, 25, 33, 43, 53, 58, 64, 72, 77, 89], "range": ["#add8e6", "#0000ff", "#000000", "#006400", "#00ff00", "#ffff00", "#ffa500", "#ff6600", "#ff0000", "#fff0f2", "#ffc0cb", "#ee82ee"], "interpolate": "rgb"}}
      }
     }
    ]
   }
  ]
 }
]
}
